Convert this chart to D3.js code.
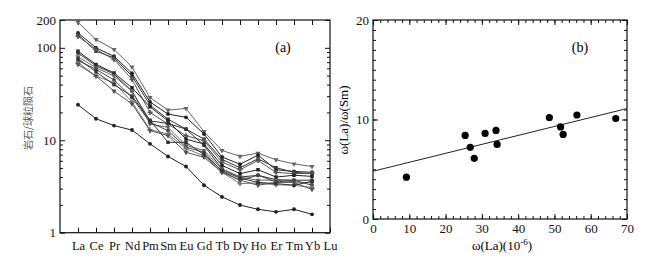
<!DOCTYPE html>
<html>
<head>
<meta charset="utf-8">
<script src="https://cdn.jsdelivr.net/npm/d3@7"></script>
<style>
  body { margin: 0; background: #fff; }
  svg { font-family: "Liberation Serif", "DejaVu Serif", serif; }
  .frame { fill: none; stroke: #111; stroke-width: 1.2; }
  .axis path { display: none; }
  .axis line { stroke: #111; }
  .axis text { fill: #111; font-size: 13px; font-family: "Liberation Serif", serif; }
</style>
</head>
<body>
<svg width="647" height="258"></svg>
<script>
// (a) chondrite-normalised REE patterns
const elements = ['La','Ce','Pr','Nd','Pm','Sm','Eu','Gd','Tb','Dy','Ho','Er','Tm','Yb','Lu'];

const reeT1 = [189, 123, 96, 62, 29, 21.2, 22.1, 12.4, 7.75, 6.7, 7.25, 6.15, 5.55, 5.2];
const reeT2 = [145, 100, 81, 53, 26, 19.2, 17.7, 11.7, 6.6, 5.5, 6.9, 4.8, 4.6, 4.5];
const reeT3 = [139, 92, 78, 49.5, 24, 16.9, 13.2, 10.3, 6.2, 5.05, 6.3, 5.05, 4.5, 4.35];
const reeT4 = [133, 96, 75, 45.5, 20, 15, 11.2, 9.9, 5.8, 4.8, 6.05, 4.5, 4.35, 4.4];
const reeM1 = [92, 66, 53.5, 37, 23, 16.2, 10.3, 9.1, 5.35, 4.35, 4.8, 4.0, 4.18, 4.07];
const reeM2 = [88, 64, 52, 34, 16.2, 15.2, 13.2, 8.8, 4.9, 4.0, 4.18, 3.75, 3.7, 3.7];
const reeM3 = [80, 61, 49.5, 34, 15, 13.8, 8.8, 7.75, 4.9, 4.0, 3.7, 3.7, 3.54, 3.45];
const reeM4 = [73, 58.5, 45, 29, 15.6, 12.7, 8.4, 7.4, 4.6, 3.7, 4.18, 3.54, 3.7, 3.26];
const reeM5 = [69, 49.5, 42, 26, 13, 11.7, 8.1, 6.8, 4.5, 3.4, 3.45, 3.3, 3.26, 3.08];
const reeM6 = [66, 49.5, 34, 24.7, 12.7, 11.2, 7.4, 6.55, 4.5, 3.7, 3.26, 3.5, 3.5, 2.93];
const reeM7 = [76, 55, 40, 30, 16.5, 9.5, 9.5, 7.0, 4.7, 3.9, 3.5, 3.4, 3.26, 3.6];
const reeB1 = [24.2, 17.1, 14.4, 12.9, 9.15, 6.68, 5.2, 3.26, 2.44, 1.99, 1.79, 1.68, 1.79, 1.58];

const reeSeries = [
  { name: 'T1', values: reeT1, color: '#666', symbol: 'triangle' },
  { name: 'T2', values: reeT2, color: '#222', symbol: 'circle' },
  { name: 'T3', values: reeT3, color: '#333', symbol: 'square' },
  { name: 'T4', values: reeT4, color: '#555', symbol: 'cross' },
  { name: 'M1', values: reeM1, color: '#222', symbol: 'square' },
  { name: 'M2', values: reeM2, color: '#333', symbol: 'circle' },
  { name: 'M3', values: reeM3, color: '#666', symbol: 'triangle' },
  { name: 'M4', values: reeM4, color: '#444', symbol: 'circle' },
  { name: 'M5', values: reeM5, color: '#777', symbol: 'cross' },
  { name: 'M6', values: reeM6, color: '#555', symbol: 'triangle' },
  { name: 'M7', values: reeM7, color: '#333', symbol: 'square' },
  { name: 'B1', values: reeB1, color: '#222', symbol: 'circle' }
];
const reeTickLabels = [1, 10, 100, 200];

// (b) La vs La/Sm
const laValues   = [9.2, 25.4, 26.8, 27.9, 30.9, 33.9, 34.2, 48.6, 51.7, 52.4, 56.2, 66.9];
const laSmValues = [4.2, 8.4, 7.2, 6.1, 8.6, 8.9, 7.5, 10.2, 9.25, 8.5, 10.45, 10.1];
const fitLine = [[0, 4.8], [70, 11.1]];

const svg = d3.select('svg');

// ---------- panel (a) ----------
const xA = d3.scaleLinear().domain([0, 15]).range([60, 330]);
const yA = d3.scaleLog().domain([1, 200]).range([232.7, 20]);

const minorA = [];
[1, 10, 100].forEach(d => { for (let k = 2; k <= 9; k++) if (d * k < 200) minorA.push(d * k); });

const pa = svg.append('g');

pa.append('g').attr('class', 'axis')
  .attr('transform', `translate(60,0)`)
  .call(d3.axisLeft(yA).tickValues(reeTickLabels).tickFormat(d3.format('d')).tickSize(-5).tickPadding(4));
pa.append('g').attr('class', 'axis')
  .attr('transform', `translate(60,0)`)
  .call(d3.axisLeft(yA).tickValues(minorA).tickFormat('').tickSize(-3));
pa.append('g').attr('class', 'axis')
  .attr('transform', `translate(330,0)`)
  .call(d3.axisRight(yA).tickValues(reeTickLabels).tickFormat('').tickSize(-5));
pa.append('g').attr('class', 'axis')
  .attr('transform', `translate(330,0)`)
  .call(d3.axisRight(yA).tickValues(minorA).tickFormat('').tickSize(-3));

pa.append('g').attr('class', 'axis')
  .attr('transform', `translate(0,${yA(1)})`)
  .call(d3.axisBottom(xA).tickValues(d3.range(1, 16)).tickFormat(i => elements[i - 1]).tickSize(-5).tickPadding(8))
  .selectAll('text').style('font-size', '12.5px');
pa.append('g').attr('class', 'axis')
  .attr('transform', `translate(0,${yA(200)})`)
  .call(d3.axisTop(xA).tickValues(d3.range(1, 15)).tickFormat('').tickSize(-5));

pa.append('rect').attr('class', 'frame')
  .attr('x', 60).attr('y', yA(200)).attr('width', 270).attr('height', yA(1) - yA(200));

const lineA = d3.line().x((d, i) => xA(i + 1)).y(d => yA(d));
const symbolTypes = { circle: d3.symbolCircle, square: d3.symbolSquare, triangle: d3.symbolTriangle, cross: d3.symbolCross };

reeSeries.forEach(s => {
  pa.append('path').datum(s.values)
    .attr('d', lineA).attr('fill', 'none')
    .attr('stroke', s.color).attr('stroke-width', 1);
  pa.selectAll(null).data(s.values).enter().append('path')
    .attr('d', d3.symbol().type(symbolTypes[s.symbol]).size(s.symbol === 'cross' ? 14 : 12))
    .attr('transform', (d, i) => `translate(${xA(i + 1)},${yA(d)})` + (s.symbol === 'triangle' ? ' rotate(180)' : ''))
    .attr('fill', s.color);
});

pa.append('text').attr('x', 283).attr('y', 52).attr('text-anchor', 'middle')
  .style('font-size', '14px').text('(a)');
pa.append('text')
  .attr('transform', 'translate(32,118) rotate(-90)')
  .attr('text-anchor', 'middle')
  .style('font-family', '"Noto Sans CJK SC", sans-serif')
  .style('font-size', '10px').attr('fill', '#555')
  .text('岩石/球粒陨石');

// ---------- panel (b) ----------
const xB = d3.scaleLinear().domain([0, 70]).range([373, 627]);
const yB = d3.scaleLinear().domain([0, 20]).range([219, 20]);

const pb = svg.append('g');

pb.append('g').attr('class', 'axis')
  .attr('transform', `translate(0,${yB(0)})`)
  .call(d3.axisBottom(xB).tickValues(d3.range(0, 71, 10)).tickSize(-5).tickPadding(5));
pb.append('g').attr('class', 'axis')
  .attr('transform', `translate(0,${yB(0)})`)
  .call(d3.axisBottom(xB).tickValues(d3.range(0, 71, 2)).tickFormat('').tickSize(-3));
pb.append('g').attr('class', 'axis')
  .attr('transform', `translate(0,${yB(20)})`)
  .call(d3.axisTop(xB).tickValues(d3.range(0, 71, 10)).tickFormat('').tickSize(-5));
pb.append('g').attr('class', 'axis')
  .attr('transform', `translate(0,${yB(20)})`)
  .call(d3.axisTop(xB).tickValues(d3.range(0, 71, 2)).tickFormat('').tickSize(-3));

pb.append('g').attr('class', 'axis')
  .attr('transform', `translate(${xB(0)},0)`)
  .call(d3.axisLeft(yB).tickValues([0, 10, 20]).tickSize(-5).tickPadding(4));
pb.append('g').attr('class', 'axis')
  .attr('transform', `translate(${xB(0)},0)`)
  .call(d3.axisLeft(yB).tickValues(d3.range(0, 21, 1)).tickFormat('').tickSize(-3));
pb.append('g').attr('class', 'axis')
  .attr('transform', `translate(${xB(70)},0)`)
  .call(d3.axisRight(yB).tickValues([0, 10, 20]).tickFormat('').tickSize(-5));
pb.append('g').attr('class', 'axis')
  .attr('transform', `translate(${xB(70)},0)`)
  .call(d3.axisRight(yB).tickValues(d3.range(0, 21, 1)).tickFormat('').tickSize(-3));

pb.append('rect').attr('class', 'frame')
  .attr('x', xB(0)).attr('y', yB(20)).attr('width', xB(70) - xB(0)).attr('height', yB(0) - yB(20));

pb.append('path').datum(fitLine)
  .attr('d', d3.line().x(d => xB(d[0])).y(d => yB(d[1])))
  .attr('fill', 'none').attr('stroke', '#222').attr('stroke-width', 1);

pb.selectAll('.dot').data(laValues).enter().append('circle')
  .attr('class', 'dot')
  .attr('cx', d => xB(d)).attr('cy', (d, i) => yB(laSmValues[i]))
  .attr('r', 3.6).attr('fill', '#000');

pb.append('text').attr('x', 580).attr('y', 52).attr('text-anchor', 'middle')
  .style('font-size', '14px').text('(b)');

pb.append('text').attr('x', 502).attr('y', 250).attr('text-anchor', 'middle')
  .style('font-size', '13px')
  .html('ω(La)(10<tspan dy="-5" font-size="9">-6</tspan><tspan dy="5">)</tspan>');

pb.append('text')
  .attr('transform', 'translate(348,120) rotate(-90)')
  .attr('text-anchor', 'middle')
  .style('font-size', '13px')
  .text('ω(La)/ω(Sm)');
</script>
</body>
</html>
